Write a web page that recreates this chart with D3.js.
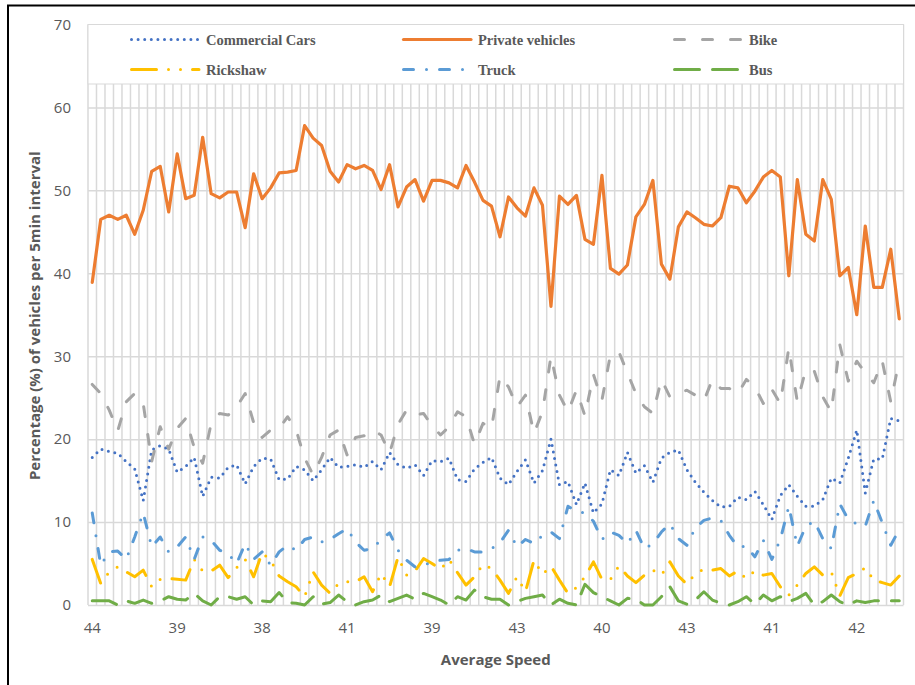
<!DOCTYPE html>
<html>
<head>
<meta charset="utf-8">
<script src="https://cdn.jsdelivr.net/npm/d3@7/dist/d3.min.js"></script>
<style>
  html, body { margin: 0; padding: 0; background: #fff; }
  svg { display: block; }
</style>
</head>
<body>
<svg id="chart" width="915" height="685"></svg>
<script>
// Share (%) of each vehicle class per 5-minute interval, 96 intervals
const speedTickLabels = ["44", "39", "38", "41", "39", "43", "40", "43", "41", "42"];
const tickEvery = 10;

const commercialCars = [
  17.8, 18.8, 18.5, 18.3, 17.3, 16.4, 12.6, 18.7, 19.2, 18.8,
  16.0, 16.7, 17.8, 13.1, 15.4, 15.3, 16.6, 16.9, 14.6, 16.7,
  17.7, 17.6, 15.1, 15.2, 16.7, 16.3, 15.0, 16.3, 17.8, 16.6,
  16.7, 16.9, 16.6, 17.3, 16.3, 18.4, 16.9, 16.5, 16.9, 15.6,
  17.4, 17.3, 17.7, 15.1, 14.9, 16.4, 17.2, 17.8, 15.3, 14.5,
  16.1, 17.5, 14.7, 16.2, 20.0, 14.5, 14.9, 12.1, 14.7, 11.1,
  12.2, 16.3, 15.6, 18.4, 15.9, 16.8, 14.8, 17.7, 18.4, 18.7,
  16.3, 14.8, 13.6, 12.6, 11.8, 11.9, 13.0, 12.7, 13.7, 12.1,
  10.3, 13.2, 14.5, 13.1, 11.9, 11.9, 12.7, 15.3, 14.7, 17.7,
  21.1, 13.5, 17.6, 17.6, 22.5, 22.2
];
const privateVehicles = [
  38.9, 46.5, 47.0, 46.5, 47.0, 44.7, 47.6, 52.3, 52.9, 47.4,
  54.4, 49.0, 49.4, 56.4, 49.6, 49.1, 49.8, 49.8, 45.5, 52.0,
  49.0, 50.3, 52.1, 52.2, 52.4, 57.8, 56.3, 55.4, 52.3, 51.0,
  53.1, 52.6, 53.0, 52.4, 50.1, 53.1, 48.0, 50.4, 51.3, 48.7,
  51.2, 51.2, 50.9, 50.3, 53.0, 51.0, 48.8, 48.1, 44.4, 49.2,
  47.9, 46.9, 50.3, 48.2, 36.0, 49.3, 48.3, 49.4, 44.1, 43.5,
  51.8, 40.6, 39.9, 41.0, 46.8, 48.3, 51.2, 41.1, 39.3, 45.6,
  47.4, 46.7, 45.9, 45.7, 46.7, 50.5, 50.3, 48.5, 49.9, 51.6,
  52.4, 51.6, 39.7, 51.3, 44.7, 43.9, 51.3, 48.9, 39.7, 40.7,
  35.0, 45.7, 38.3, 38.3, 42.9, 34.5
];
const bike = [
  26.6, 25.5, 23.5, 21.0, 24.5, 25.5, 24.3, 17.3, 21.5, 18.8,
  21.3, 22.5, 19.0, 17.1, 21.9, 23.1, 22.9, 23.9, 25.5, 22.0,
  20.2, 21.1, 21.3, 22.7, 21.1, 17.7, 15.7, 17.8, 20.5, 21.1,
  18.1, 20.2, 20.4, 21.1, 20.5, 18.3, 21.8, 23.5, 22.9, 23.1,
  21.6, 20.5, 21.5, 23.3, 22.7, 19.4, 21.9, 21.3, 27.6, 26.3,
  23.9, 25.3, 20.7, 23.3, 30.0, 25.3, 23.3, 25.9, 22.8, 27.8,
  24.7, 30.2, 30.5, 28.0, 25.5, 23.9, 23.1, 27.2, 25.1, 25.5,
  25.9, 25.3, 24.6, 27.2, 26.1, 26.1, 25.5, 27.2, 26.3, 24.3,
  26.0, 24.3, 31.0, 24.5, 28.4, 28.2, 25.1, 23.3, 31.4, 27.0,
  29.4, 28.0, 26.8, 29.4, 24.5, 29.5
];
const rickshaw = [
  5.5, 2.6, 4.0, 4.6, 4.0, 3.4, 4.2, 2.2, 3.1, 3.2,
  3.1, 3.0, 5.5, 4.1, 4.1, 4.8, 3.3, 4.5, 5.5, 3.4,
  6.3, 5.4, 3.5, 2.8, 2.2, 1.0, 4.0, 2.4, 1.4, 2.6,
  2.8, 2.8, 3.4, 1.6, 3.8, 2.2, 5.8, 3.6, 4.1, 5.6,
  5.0, 4.3, 5.5, 3.9, 2.4, 3.4, 4.9, 4.4, 3.0, 1.4,
  3.4, 1.6, 5.4, 3.7, 4.7, 3.0, 1.4, 2.1, 3.4, 5.2,
  3.1, 3.1, 4.7, 3.5, 2.7, 3.6, 4.2, 3.6, 5.2, 3.5,
  2.5, 3.8, 4.3, 4.2, 4.4, 3.5, 4.1, 3.2, 4.1, 3.6,
  3.8, 2.2, 1.2, 2.4, 3.8, 4.6, 3.6, 4.0, 1.1, 3.3,
  3.8, 4.5, 3.0, 2.7, 2.4, 3.5
];
const truck = [
  11.1, 4.8, 6.4, 6.5, 5.5, 8.2, 11.1, 7.0, 8.2, 6.4,
  7.0, 8.2, 5.5, 8.2, 7.8, 6.6, 6.2, 5.0, 7.4, 5.5,
  6.4, 4.8, 6.4, 7.2, 6.6, 7.9, 8.2, 7.6, 7.9, 8.6,
  9.2, 7.6, 6.6, 6.8, 7.9, 8.7, 6.6, 5.4, 4.6, 4.8,
  5.2, 5.4, 5.5, 6.6, 6.8, 6.4, 6.4, 6.8, 7.5, 9.0,
  7.0, 7.9, 7.4, 8.4, 8.8, 8.0, 11.9, 11.3, 11.1, 10.1,
  7.9, 8.8, 8.4, 7.4, 9.0, 6.8, 7.4, 8.8, 9.8, 8.0,
  7.2, 9.3, 10.2, 10.5, 10.2, 8.4, 7.0, 7.1, 5.8, 7.8,
  5.5, 7.9, 11.9, 7.1, 9.5, 10.1, 8.0, 6.8, 12.2, 10.3,
  9.8, 9.5, 12.6, 9.9, 7.2, 9.1
];
const bus = [
  0.5, 0.5, 0.5, 0.0, 0.5, 0.2, 0.6, 0.2, 0.5, 1.0,
  0.7, 0.6, 1.4, 0.5, 0.0, 1.0, 1.0, 0.7, 1.0, 0.0,
  0.5, 0.4, 1.5, 0.3, 0.2, 0.0, 1.0, 0.1, 0.3, 1.2,
  0.4, 0.0, 0.4, 0.6, 1.2, 0.4, 0.8, 1.2, 0.7, 1.4,
  1.0, 0.6, 0.0, 1.0, 0.6, 1.8, 1.0, 0.7, 0.7, 0.0,
  0.4, 0.8, 1.0, 1.2, 0.0, 0.7, 0.2, 0.0, 2.5, 1.5,
  1.0, 0.5, 0.0, 0.8, 0.7, 0.0, 0.0, 1.0, 2.2, 0.5,
  0.1, 0.6, 1.6, 0.6, 0.2, 0.0, 0.4, 1.0, 0.1, 1.2,
  0.5, 1.0, 0.4, 0.8, 1.4, 0.0, 0.4, 1.2, 0.4, 0.0,
  0.5, 0.3, 0.5, 0.5, 0.5, 0.5
];

const yTicks = [0, 10, 20, 30, 40, 50, 60, 70];

const series = [
  { name: "Commercial Cars", values: commercialCars, color: "#4472c4", dash: "0 6.6", width: 3 },
  { name: "Private vehicles", values: privateVehicles, color: "#ed7d31", dash: null, width: 3.2 },
  { name: "Bike", values: bike, color: "#a5a5a5", dash: "10 18", width: 3 },
  { name: "Rickshaw", values: rickshaw, color: "#ffc000", dash: "25 12 0 12 0 12", width: 3 },
  { name: "Truck", values: truck, color: "#5b9bd5", dash: "10 13 0 13", width: 3 },
  { name: "Bus", values: bus, color: "#70ad47", dash: "25 13", width: 3 }
];

const svg = d3.select("#chart");
const plot = { left: 88, right: 903.5, top: 24.5, bottom: 605 };
const gridColor = "#d9d9d9";
const textColor = "#595959";

// outer frame of the chart object
svg.append("path")
  .attr("d", "M8,690 L8,5.5 L920,5.5")
  .attr("fill", "none")
  .attr("stroke", "#000")
  .attr("stroke-width", 2);

const n = privateVehicles.length;
const x = d3.scaleBand().domain(d3.range(n)).range([plot.left, plot.right]).padding(0);
const y = d3.scaleLinear().domain([0, 70]).range([plot.bottom, plot.top]);
const cx = i => x(i) + x.bandwidth() / 2;

// vertical gridlines at every category boundary
const gridV = svg.append("g");
d3.range(n + 1).forEach(i => {
  const gx = i < n ? x(i) : plot.right;
  gridV.append("line")
    .attr("x1", gx).attr("x2", gx)
    .attr("y1", plot.top).attr("y2", plot.bottom)
    .attr("stroke", gridColor).attr("stroke-width", 1.5);
});

// horizontal gridlines and value labels
const yAxis = d3.axisLeft(y).tickValues(yTicks).tickSize(-(plot.right - plot.left)).tickPadding(17);
const gy = svg.append("g").attr("transform", `translate(${plot.left},0)`).call(yAxis);
gy.select(".domain").remove();
gy.selectAll(".tick line").attr("stroke", gridColor).attr("stroke-width", 1.5);
gy.selectAll(".tick text")
  .attr("fill", textColor)
  .style("font-family", "'Open Sans', 'Liberation Sans', sans-serif")
  .style("font-size", "15px");

// category labels every tenth interval
const xAxis = d3.axisBottom(x)
  .tickValues(d3.range(0, n, tickEvery))
  .tickFormat(i => speedTickLabels[i / tickEvery])
  .tickSize(0).tickPadding(17);
const gx = svg.append("g").attr("transform", `translate(0,${plot.bottom})`).call(xAxis);
gx.select(".domain").remove();
gx.selectAll(".tick text")
  .attr("fill", textColor)
  .style("font-family", "'Open Sans', 'Liberation Sans', sans-serif")
  .style("font-size", "15px");

// series lines
const line = d3.line().x((d, i) => cx(i)).y(d => y(d));
series.forEach(s => {
  const p = svg.append("path")
    .datum(s.values)
    .attr("d", line)
    .attr("fill", "none")
    .attr("stroke", s.color)
    .attr("stroke-width", s.width)
    .attr("stroke-linejoin", "round")
    .attr("stroke-linecap", "round");
  if (s.dash) p.attr("stroke-dasharray", s.dash);
});

// legend panel across the top of the plot
const legend = svg.append("g");
legend.append("rect")
  .attr("x", plot.left).attr("y", plot.top)
  .attr("width", plot.right - plot.left).attr("height", 59.5)
  .attr("fill", "#fff")
  .attr("stroke", gridColor).attr("stroke-width", 1);

const colX = [130, 402, 673];
const rowY = [39.5, 69.5];
series.forEach((s, k) => {
  const lx = colX[k % 3];
  const ly = rowY[Math.floor(k / 3)];
  const sw = legend.append("line")
    .attr("x1", lx + 1.5).attr("x2", lx + 69)
    .attr("y1", ly).attr("y2", ly)
    .attr("stroke", s.color)
    .attr("stroke-width", s.width)
    .attr("stroke-linecap", "round");
  if (s.dash) sw.attr("stroke-dasharray", s.dash);
  legend.append("text")
    .attr("x", lx + 76).attr("y", ly)
    .attr("dy", "0.35em")
    .attr("fill", textColor)
    .style("font-family", "'Liberation Serif', 'Times New Roman', serif")
    .style("font-weight", "bold")
    .style("font-size", "14.5px")
    .text(s.name);
});

// axis titles
svg.append("text")
  .attr("x", (plot.left + plot.right) / 2)
  .attr("y", 660)
  .attr("dy", "0.35em")
  .attr("text-anchor", "middle")
  .attr("fill", textColor)
  .style("font-family", "'Open Sans', 'Liberation Sans', sans-serif")
  .style("font-weight", "bold")
  .style("font-size", "15px")
  .text("Average Speed");

svg.append("text")
  .attr("transform", `translate(35,${(plot.top + plot.bottom) / 2 + 1}) rotate(-90)`)
  .attr("dy", "0.35em")
  .attr("text-anchor", "middle")
  .attr("fill", textColor)
  .style("font-family", "'Open Sans', 'Liberation Sans', sans-serif")
  .style("font-weight", "bold")
  .style("font-size", "15px")
  .text("Percentage (%) of vehicles per 5min interval");
</script>
</body>
</html>
